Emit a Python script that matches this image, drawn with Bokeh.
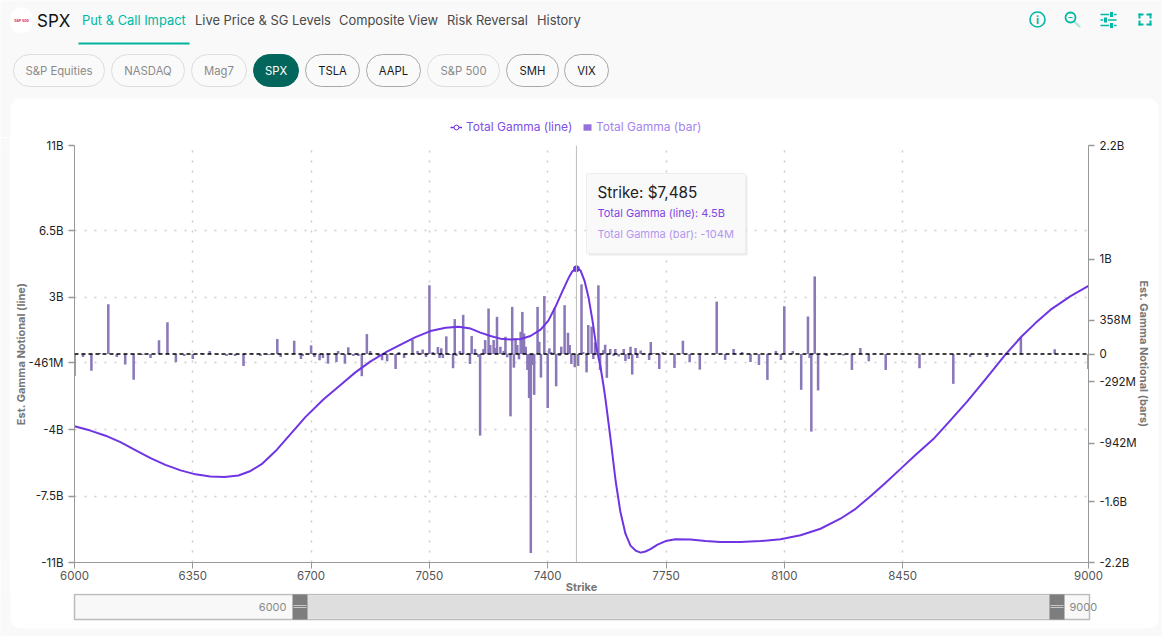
from bokeh.plotting import figure
from bokeh.layouts import column, row
from bokeh.models import (Range1d, LinearAxis, FixedTicker, Span, Label, BoxAnnotation, PolyAnnotation,
                          Legend, LegendItem)
from bokeh.embed import file_html
from bokeh.resources import INLINE

FONT = "Inter"
PURPLE = "#6f35e2"
TEAL = "#00b8a3"
BG = "#f9f9f9"

# ---------- data ----------
tabs = ["Put & Call Impact", "Live Price & SG Levels", "Composite View", "Risk Reversal", "History"]
chips = ["S&P Equities", "NASDAQ", "Mag7", "SPX", "TSLA", "AAPL", "S&P 500", "SMH", "VIX"]

line_strike = [6000, 6047, 6092, 6136, 6180, 6225, 6269, 6314, 6358, 6402, 6444, 6485, 6521, 6556, 6595, 6639, 6683,
               6737, 6787, 6831, 6876, 6920, 6965, 7009, 7053, 7098, 7136, 7172, 7201, 7231, 7260, 7290, 7320, 7349,
               7379, 7402, 7423, 7444, 7462, 7473, 7485, 7497, 7509, 7521, 7533, 7544, 7556, 7565, 7571, 7580, 7586,
               7601, 7615, 7630, 7645, 7660, 7675, 7689, 7704, 7725, 7749, 7778, 7822, 7867, 7911, 7970, 8030, 8089,
               8148, 8207, 8266, 8311, 8355, 8399, 8444, 8488, 8541, 8592, 8642, 8695, 8754, 8799, 8843, 8888, 8947,
               9000]
line_gamma = [-3.81, -4.04, -4.31, -4.65, -5.07, -5.49, -5.85, -6.14, -6.35, -6.46, -6.49, -6.41, -6.17, -5.78, -5.12,
              -4.23, -3.33, -2.39, -1.63, -0.97, -0.39, 0.08, 0.50, 0.89, 1.21, 1.39, 1.44, 1.34, 1.13, 0.95, 0.81,
              0.76, 0.79, 0.95, 1.29, 1.76, 2.49, 3.33, 4.02, 4.36, 4.5, 4.41, 3.86, 2.97, 1.71, 0.34, -0.66, -1.65,
              -2.39, -3.65, -4.49, -6.70, -8.32, -9.48, -10.11, -10.37, -10.48, -10.42, -10.29, -10.06, -9.87, -9.77,
              -9.79, -9.87, -9.92, -9.92, -9.87, -9.77, -9.56, -9.22, -8.69, -8.17, -7.51, -6.80, -6.06, -5.33, -4.49,
              -3.49, -2.49, -1.34, -0.03, 0.87, 1.63, 2.34, 3.05, 3.60]

bar_strike = [6000, 6025, 6050, 6075, 6100, 6125, 6150, 6175, 6200, 6225, 6250, 6275, 6300, 6325, 6350, 6375, 6400,
              6425, 6450, 6475, 6500, 6525, 6550, 6575, 6600, 6610, 6650, 6670, 6675, 6700, 6710, 6725, 6735, 6750,
              6775, 6780, 6800, 6810, 6825, 6840, 6850, 6865, 6875, 6900, 6910, 6925, 6950, 6960, 6975, 7000, 7015,
              7030, 7040, 7050, 7060, 7075, 7080, 7085, 7090, 7100, 7110, 7120, 7125, 7130, 7140, 7150, 7160, 7170,
              7175, 7185, 7195, 7200, 7210, 7215, 7225, 7230, 7240, 7245, 7250, 7260, 7270, 7275, 7280, 7290, 7295,
              7300, 7305, 7310, 7315, 7320, 7325, 7330, 7335, 7340, 7345, 7350, 7355, 7360, 7370, 7375, 7380, 7390,
              7400, 7405, 7410, 7420, 7425, 7435, 7440, 7450, 7460, 7465, 7470, 7480, 7485, 7490, 7495, 7500, 7505,
              7515, 7520, 7530, 7535, 7540, 7550, 7555, 7565, 7570, 7575, 7585, 7595, 7600, 7610, 7625, 7630, 7640,
              7645, 7650, 7660, 7665, 7675, 7685, 7700, 7705, 7715, 7730, 7740, 7775, 7800, 7820, 7850, 7900, 7925,
              7950, 7975, 8000, 8025, 8050, 8075, 8090, 8100, 8125, 8150, 8170, 8175, 8180, 8190, 8200, 8225, 8250,
              8275, 8300, 8325, 8350, 8400, 8500, 8600, 8650, 8700, 8800, 8900, 8950, 9000]
bar_value = [-231, -32, -178, 10, 525, -32, -110, -273, -10, -42, 144, 336, -84, -21, -53, 10, 32,
             -5, -21, -21, -126, 10, -21, -10, 158, -32, 140, -53, -21, 91, -32, -66, -42, -102,
             -84, 32, -102, 70, -21, -21, -234, 210, 32, -21, -66, -77, -158, 21, -42, 150, 32,
             47, -32, 725, 21, 74, -42, 60, -42, 186, -10, -150, 368, -21, 32, 413, -10, -105,
             189, 53, -32, -861, 53, 147, 480, 95, 147, 63, 392, 77, 32, 182, -35, -658, 497,
             -144, 165, 95, -56, 234, 444, 217, 77, -168, -465, -2100, -116, -431, 497, 129, -249, 612,
             -570, 60, 21, 483, -341, -21, 77, 515, 224, 95, -105, -140, -104, -126, 10, 735, 21,
             -194, 305, 289, -53, 123, 725, -168, 42, 98, -252, 53, -21, 53, -26, 53, -74, -53,
             77, -217, 63, -42, 37, 10, -63, 126, 10, -158, 21, -147, 140, -87, -165, 553, -63,
             53, 21, -84, -116, -273, 32, -63, 504, 32, -378, 396, -42, -819, 819, -385, -21, 10,
             -16, -168, 63, -77, -168, -150, -315, -32, -32, 175, 49, -10, -158]

x_ticks = [6000, 6350, 6700, 7050, 7400, 7750, 8100, 8450, 9000]
left_ticks = [-11, -7.5, -4, -0.461, 3, 6.5, 11]
left_labels = ["-11B", "-7.5B", "-4B", "-461M", "3B", "6.5B", "11B"]
right_ticks = [-2200, -1560, -942, -292, 0, 358, 1000, 2200]
right_labels = ["-2.2B", "-1.6B", "-942M", "-292M", "0", "358M", "1B", "2.2B"]

hover_strike, hover_line, hover_bar = 7485, 4.5, -104


# ---------- helpers: page pixels, per figure canvas ----------
def box(f, l, t, r, b, fill=None, line=None, lw=1, radius=0, level="overlay", alpha=1.0):
    ox, oy = f.tags
    a = BoxAnnotation(left=l - ox, right=r - ox, top=t - oy, bottom=b - oy,
                      left_units="canvas", right_units="canvas", top_units="canvas", bottom_units="canvas",
                      fill_color=fill, fill_alpha=alpha if fill else 0, line_color=line, line_width=lw,
                      line_alpha=1 if line else 0, border_radius=radius, level=level, editable=False)
    f.add_layout(a)
    return a


def text(f, px, py, s, size=12, color="#222222", align="left", base="middle", style="normal"):
    ox, oy = f.tags
    lab = Label(x=px - ox, y=py - oy, x_units="canvas", y_units="canvas", text=s, text_font=FONT,
                text_font_size=f"{size}px", text_color=color, text_align=align, text_baseline=base,
                text_font_style=style, level="overlay")
    f.add_layout(lab)
    return lab


def poly(f, pts, line, lw=1.6):
    ox, oy = f.tags
    a = PolyAnnotation(xs=[q[0] - ox for q in pts], ys=[q[1] - oy for q in pts], xs_units="canvas", ys_units="canvas",
                       fill_alpha=0, line_color=line, line_width=lw, level="overlay", editable=False)
    f.add_layout(a)


def blank(w, h, ox, oy, fill=BG, **kw):
    f = figure(width=w, height=h, output_backend="svg", toolbar_location=None,
               x_range=Range1d(0, w), y_range=Range1d(0, h), x_axis_type=None, y_axis_type=None,
               min_border=0, background_fill_color=fill, border_fill_color=fill, outline_line_color=None,
               tags=[ox, oy], **kw)
    f.grid.visible = False
    return f


# ---------- header figure: page y 0-137 ----------
top = blank(1162, 137, 0, 0)
box(top, 10, 98, 1158, 180, fill="white", radius=10, level="image")
box(top, 10, 7, 32, 33, fill="white", radius=13)
text(top, 21, 20, "S&P 500", size=3.5, color="#e0245e", align="center", style="bold")
text(top, 36.5, 20, "SPX", size=17, color="#111111")
tab_x = [81.5, 194.5, 338.5, 446.5, 536.5]
for i, (t, x0) in enumerate(zip(tabs, tab_x)):
    text(top, x0, 20, t, size=12.9, color=TEAL if i == 0 else "#4a4a4a")
box(top, 78, 42, 189, 44, fill="#00b39f")

chip_l = [13, 111, 191, 253, 305, 366, 427, 506, 564]
chip_r = [104, 184, 246, 298, 359, 420, 499, 558, 608]
active = {"TSLA", "AAPL", "SMH", "VIX"}
for c, l, r in zip(chips, chip_l, chip_r):
    if c == "SPX":
        box(top, l, 54, r, 86, fill="#03665c", line="#03665c", radius=16)
        col = "#ffffff"
    elif c in active:
        box(top, l, 54, r, 86, fill="#fafafa", line="#a8a8a8", radius=16)
        col = "#1a1a1a"
    else:
        box(top, l, 54, r, 86, fill="#fafafa", line="#dcdcdc", radius=16)
        col = "#8a8a8a"
    text(top, (l + r) / 2, 70, c, size=11.3, color=col, align="center")

# icons
box(top, 1029.5, 11.5, 1044.5, 26.5, line=TEAL, lw=1.6, radius=8)
text(top, 1037, 19.5, "i", size=11, color=TEAL, align="center", style="bold")
box(top, 1065, 12, 1075, 22, line=TEAL, lw=1.8, radius=5)
box(top, 1068, 16.5, 1072, 17.5, fill=TEAL)
poly(top, [(1074, 21), (1079.5, 26), (1079, 26.5), (1073.5, 21.5)], TEAL)
for yy in (14, 19.5, 25):
    box(top, 1100, yy - 0.7, 1116, yy + 0.7, fill=TEAL)
for xx, yy in [(1111, 14), (1105, 19.5), (1111, 25)]:
    box(top, xx - 2, yy - 3, xx + 2, yy + 3, fill=TEAL, line=BG)
for xa, ya, xb, yb in [(1138, 13, 1143, 15), (1138, 13, 1140, 18), (1146, 13, 1151, 15), (1149, 13, 1151, 18),
                       (1138, 23, 1143, 25), (1138, 20, 1140, 25), (1146, 23, 1151, 25), (1149, 20, 1151, 25)]:
    box(top, xa, ya, xb, yb, fill=TEAL)

# legend (lives in the header figure; keys only)
nan = float("nan")
key_line = top.line([nan, nan], [nan, nan], line_color=PURPLE, line_width=1.5)
key_mark = top.scatter([nan], [nan], size=5, marker="circle", fill_color="white", line_color=PURPLE, line_width=1)
key_bar = top.vbar(x=[nan], top=[nan], bottom=0, width=1, fill_color="#9370db", line_color=None)
for item, renderers, px0, col, gw, gh in (("Total Gamma (line)", [key_line, key_mark], 449, "#7f4fe6", 12, 12),
                                          ("Total Gamma (bar)", [key_bar], 581, "#a384ec", 10, 8)):
    lg = Legend(items=[LegendItem(label=item, renderers=renderers)], location=(px0, 137 - 135),
                orientation="horizontal", background_fill_alpha=0, border_line_alpha=0,
                label_text_font=FONT, label_text_font_size="12px", label_text_color=col,
                glyph_width=gw, glyph_height=gh, label_standoff=4, margin=0, padding=1)
    top.add_layout(lg, "center")

# ---------- chart figure: page x 10-1158, y 137-596 ----------
p = figure(width=1148, height=459, output_backend="svg", toolbar_location=None,
           x_range=Range1d(6000, 9000), y_range=Range1d(-11, 11),
           min_border_left=64, min_border_right=70, min_border_top=8, min_border_bottom=32,
           background_fill_color="white", border_fill_color="white", outline_line_color=None, tags=[10, 137])
p.extra_y_ranges = {"bars": Range1d(-2200, 2200)}

ax = p.xaxis[0]
ax.ticker = FixedTicker(ticks=x_ticks)
ax.axis_label = "Strike"
ax.axis_label_text_font = FONT
ax.axis_label_text_font_size = "11px"
ax.axis_label_text_font_style = "bold"
ax.axis_label_text_color = "#777777"
ax.axis_label_standoff = -3
ax.major_label_text_font = FONT
ax.major_label_text_font_size = "11.5px"
ax.major_label_text_color = "#555555"
ax.major_label_standoff = 2
ax.axis_line_color = "#999999"
ax.major_tick_line_color = "#999999"
ax.major_tick_out = 6
ax.major_tick_in = 0
ax.minor_tick_line_color = None

ay = p.yaxis[0]
ay.ticker = FixedTicker(ticks=left_ticks)
ay.major_label_overrides = dict(zip(left_ticks, left_labels))
ay.axis_label = "Est. Gamma Notional (line)"
ry = LinearAxis(y_range_name="bars", ticker=FixedTicker(ticks=right_ticks),
                major_label_overrides=dict(zip(right_ticks, right_labels)),
                axis_label="Est. Gamma Notional (bars)")
p.add_layout(ry, "right")
for a, st, ls in ((ay, -2, 5), (ry, -3, 5)):
    a.axis_label_text_font = FONT
    a.axis_label_text_font_size = "11px"
    a.axis_label_text_font_style = "bold"
    a.axis_label_text_color = "#777777"
    a.axis_label_standoff = st
    a.major_label_text_font = FONT
    a.major_label_text_font_size = "11.5px"
    a.major_label_text_color = "#222222"
    a.major_label_standoff = ls
    a.axis_line_color = "#999999"
    a.major_tick_line_color = "#999999"
    a.major_tick_line_width = 1.5
    a.major_tick_out = 6
    a.major_tick_in = 0
    a.minor_tick_line_color = None

p.xgrid.ticker = FixedTicker(ticks=x_ticks)
p.ygrid.ticker = FixedTicker(ticks=left_ticks)
for g in (p.xgrid[0], p.ygrid[0]):
    g.grid_line_color = "#cccccc"
    g.grid_line_dash = "2 8"
    g.grid_line_width = 1.5

bars = p.vbar(x=bar_strike, top=bar_value, bottom=0, width=7.5, y_range_name="bars",
              fill_color="#8a78b8", line_color=None)
p.add_layout(Span(location=hover_strike, dimension="height", line_color="#bdbdbd", line_width=1, level="glyph"))
p.add_layout(Span(location=0, y_range_name="bars", dimension="width", line_color="#000000", line_width=1.5,
                  line_dash="4 3", level="annotation"))

line = p.line(line_strike, line_gamma, line_color=PURPLE, line_width=2, line_join="round")
p.scatter([hover_strike], [hover_line], size=6, marker="circle", fill_color=PURPLE, line_color=PURPLE)

# tooltip
box(p, 588, 176, 747, 255, fill="#000000", alpha=0.08, radius=1)
box(p, 586, 173, 745, 253, fill="#f9f9f9", line="#eeeeee", radius=1)
text(p, 597, 192, f"Strike: ${hover_strike:,}", size=15.3, color="#222222")
text(p, 597, 212, f"Total Gamma (line): {hover_line}B", size=11, color="#8047e6")
text(p, 597, 233, f"Total Gamma (bar): {hover_bar}M", size=11, color="#b397f0")

# side strips that keep the page colour beside the card
strip_l = blank(10, 459, 0, 137)
strip_r = blank(4, 459, 1158, 137)

# ---------- footer figure: page y 593-636, pulled up over the chart's empty bottom edge ----------
bot = blank(1162, 43, 0, 593, margin=(-3, 0, 0, 0))
box(bot, 10, 560, 1158, 628, fill="white", radius=10, level="image")
box(bot, 74, 594, 1089, 619, fill="#f8f8f8", line="#bbbbbb", lw=1.5)
box(bot, 299, 595, 1056, 618, fill="#dedede")
for l, r in ((292, 307), (1049, 1064)):
    box(bot, l, 594, r, 619, fill="#7d7d7d")
    box(bot, l + 1, 604.5, r - 1, 605.5, fill="#c8c8c8")
    box(bot, l + 1, 606.5, r - 1, 607.5, fill="#c8c8c8")
text(bot, 286, 606, "6000", size=11, color="#8a8a8a", align="right")
text(bot, 1069, 606, "9000", size=11, color="#8a8a8a", align="left")

page = column(top, row(strip_l, p, strip_r, spacing=0), bot, spacing=0)
open("out.html", "w").write(file_html(page, INLINE))
